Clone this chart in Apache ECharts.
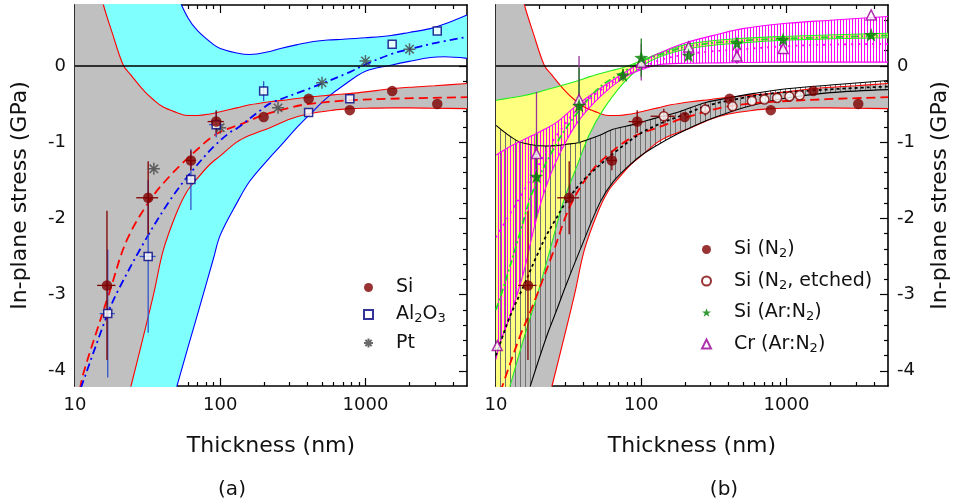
<!DOCTYPE html>
<html><head><meta charset="utf-8">
<script src="https://cdn.jsdelivr.net/npm/echarts@6/dist/echarts.min.js"></script>
<style>html,body{margin:0;padding:0;background:#fff}#c{width:957px;height:504px}</style>
</head><body><div id="c"></div>
<script>
// ---------- ticks ----------
const xMajorTicks = [10, 100, 1000];
const xMinorTicks = [20, 30, 40, 50, 60, 70, 80, 90, 200, 300, 400, 500, 600, 700, 800, 900, 2000, 3000, 4000];
const yMajorTicks = [-4, -3, -2, -1, 0];
const yMinorTicks = [-3.8, -3.6, -3.4, -3.2, -2.8, -2.6, -2.4, -2.2, -1.8, -1.6, -1.4, -1.2, -0.8, -0.6, -0.4, -0.2, 0.2, 0.4, 0.6];

// ---------- panel (a) points ----------
const siX = [16.6, 31.9, 62.8, 93.8, 199, 406, 780, 1527, 3120];
const siY = [-2.88, -1.73, -1.24, -0.73, -0.67, -0.43, -0.58, -0.33, -0.50];
const siYErr = [0.98, 0.48, 0.13, 0.15, 0, 0, 0, 0, 0];
const siXErr = [2.4, 5.5, 5, 12, 0, 0, 0, 0, 0];

const alX = [16.8, 31.9, 62.8, 93.8, 199, 406, 780, 1527, 3120];
const alY = [-3.25, -2.50, -1.49, -0.77, -0.33, -0.61, -0.43, 0.285, 0.46];
const alYErr = [0.84, 1.0, 0.4, 0.17, 0.13, 0, 0, 0, 0];
const alXErr = [2, 4, 6, 10, 0, 0, 0, 0, 0];

const ptX = [34.9, 100, 250, 502, 1000, 2010];
const ptY = [-1.35, -0.81, -0.55, -0.22, 0.065, 0.22];

// Si band (grey, red bounds) - used in both panels
const siBandX  = [10, 12, 14, 15.7, 18, 21.5, 24.3, 30, 35, 40.5, 50, 58.9, 70, 85, 100, 130, 160, 220, 300, 400, 600, 800, 1000, 1500, 2000, 3000, 5000];
const siBandLo = [-7.8, -6.8, -6.1, -5.7, -5.2, -4.6, -4.2, -3.5, -2.97, -2.42, -1.93, -1.65, -1.47, -1.29, -1.18, -1.00, -0.91, -0.81, -0.70, -0.63, -0.58, -0.56, -0.555, -0.55, -0.55, -0.555, -0.56];
const siBandHi = [3.0, 1.9, 1.2, 0.80, 0.44, 0.01, -0.12, -0.33, -0.45, -0.54, -0.61, -0.65, -0.65, -0.63, -0.60, -0.55, -0.51, -0.47, -0.44, -0.41, -0.38, -0.36, -0.34, -0.30, -0.28, -0.26, -0.23];

// Si fit (red dashed), panel a
const siFitX = [10, 10.8, 11.4, 14, 17.4, 22.7, 32.9, 45.2, 65.5, 94.8, 145, 200, 300, 400, 780, 1500, 5000];
const siFitY = [-4.6, -4.25, -4.04, -3.5, -2.95, -2.29, -1.76, -1.44, -1.14, -0.89, -0.75, -0.64, -0.55, -0.50, -0.45, -0.43, -0.41];

// Al2O3 fit (blue dash-dot)
const alFitX = [10, 11.1, 16.8, 20, 30.4, 45.2, 62, 90, 117, 130, 199, 221, 406, 780, 1000, 1527, 2000, 3000, 5000];
const alFitY = [-4.45, -4.2, -3.25, -2.93, -2.29, -1.76, -1.41, -1.06, -0.87, -0.82, -0.55, -0.49, -0.30, -0.08, 0.02, 0.16, 0.22, 0.30, 0.38];

// Al2O3 band (cyan, blue bounds)
const alBandX  = [10, 20, 30, 40, 50, 60, 70, 90, 100, 130, 160, 220, 260, 340, 440, 550, 700, 1000, 1500, 2000, 2800, 3500, 5000];
const alBandLo = [-9.0, -6.9, -5.7, -4.87, -4.22, -3.69, -3.25, -2.52, -2.22, -1.80, -1.51, -1.20, -1.05, -0.80, -0.585, -0.41, -0.26, -0.07, 0.01, 0.06, 0.11, 0.12, 0.10];
const alBandHi = [5.0, 3.2, 2.2, 1.45, 0.95, 0.63, 0.46, 0.28, 0.23, 0.17, 0.15, 0.19, 0.23, 0.28, 0.32, 0.34, 0.35, 0.37, 0.40, 0.44, 0.49, 0.55, 0.67];

// ---------- panel (b) points ----------
const etX = [143, 276, 425, 578, 705, 862, 1047, 1233];
const etY = [-0.66, -0.57, -0.53, -0.46, -0.44, -0.42, -0.40, -0.385];
const etYErr = [0.1, 0.08, 0.06, 0, 0, 0, 0, 0];
const etXErr = [27, 0, 0, 0, 0, 0, 0, 0];

const arX = [19.0, 37.3, 74.9, 100, 212, 456, 948, 3828];
const arY = [-1.45, -0.52, -0.12, 0.11, 0.14, 0.30, 0.35, 0.41];
const arYErr = [0.55, 0.5, 0.08, 0.25, 0, 0, 0, 0];

const crX = [10.2, 19.0, 37.3, 100, 212, 456, 948, 3828];
const crY = [-3.67, -1.15, -0.44, 0.05, 0.25, 0.13, 0.23, 0.67];
const crYErr = [0, 0.81, 0.57, 0.24, 0, 0.1, 0, 0];

// Si (N2) fit, panel b (red dashed)
const siFitBX = [10, 11.2, 14.6, 17, 19, 24.7, 32.2, 44.2, 60.6, 87.8, 134, 200, 400, 1000, 5000];
const siFitBY = [-4.45, -4.17, -3.55, -3.25, -3.02, -2.45, -1.85, -1.41, -1.15, -0.93, -0.80, -0.68, -0.53, -0.46, -0.41];

// combined fit (black dotted) and its band (hatched, black bounds)
const cbFitX = [10, 12.4, 15.4, 19, 22.3, 26, 30.5, 37.8, 44.2, 65, 100, 134, 183, 300, 500, 800, 2300, 5000];
const cbFitY = [-3.80, -3.30, -2.90, -2.50, -2.22, -2.00, -1.78, -1.55, -1.42, -1.14, -0.88, -0.76, -0.66, -0.51, -0.42, -0.36, -0.30, -0.27];
const cbBandX  = [10, 13.9, 17.1, 22.3, 26.1, 30, 37.8, 51.7, 64, 88, 108, 134, 183, 279, 400, 600, 1000, 2000, 5000];
const cbBandLo = [-5.8, -4.8, -4.22, -3.55, -3.21, -2.9, -2.42, -1.80, -1.52, -1.26, -1.13, -1.02, -0.88, -0.72, -0.61, -0.51, -0.42, -0.35, -0.31];
const cbBandHi = [-0.78, -0.98, -1.03, -1.05, -1.045, -1.03, -1.00, -0.91, -0.83, -0.77, -0.72, -0.67, -0.60, -0.48, -0.42, -0.36, -0.30, -0.25, -0.19];

// Si (Ar:N2) fit (green dash-dot) and band (yellow, green bounds)
const grFitX = [10, 11.5, 14.6, 17.9, 26.1, 35.8, 51.7, 74.9, 100, 134, 214, 470, 1040, 5000];
const grFitY = [-3.2, -2.85, -2.2, -1.65, -1.02, -0.63, -0.28, -0.08, 0.06, 0.15, 0.26, 0.33, 0.36, 0.40];
const grBandX  = [10, 12.4, 15.4, 19, 23.5, 29, 35.8, 44.2, 54.5, 75, 100, 134, 214, 470, 1040, 5000];
const grBandLo = [-4.83, -4.22, -3.60, -3.04, -2.42, -1.79, -1.33, -0.89, -0.58, -0.23, -0.01, 0.12, 0.23, 0.30, 0.34, 0.37];
const grBandHi = [-0.45, -0.42, -0.39, -0.35, -0.30, -0.25, -0.20, -0.14, -0.09, -0.02, 0.07, 0.17, 0.29, 0.36, 0.39, 0.43];

// Cr fit (magenta dotted) and band (magenta hatched)
const mgFitX = [10, 12.4, 15.4, 19, 22.3, 26, 35.8, 49, 67, 92, 134, 200, 300, 500, 1000, 2000, 5000];
const mgFitY = [-2.25, -1.95, -1.65, -1.35, -1.12, -0.92, -0.58, -0.36, -0.19, -0.06, 0.075, 0.15, 0.19, 0.22, 0.26, 0.28, 0.29];
const mgBandX  = [10, 10.6, 12.4, 15.4, 17.9, 21.1, 26.1, 35.8, 51.7, 75, 100, 134, 200, 344, 500, 1000, 2000, 5000];
const mgBandLo = [-3.85, -3.65, -3.30, -2.73, -2.20, -1.70, -1.24, -0.76, -0.41, -0.16, -0.05, 0.02, 0.035, 0.04, 0.045, 0.05, 0.05, 0.05];
const mgBandHi = [-1.17, -1.14, -1.06, -0.97, -0.91, -0.84, -0.74, -0.52, -0.30, -0.10, 0.05, 0.17, 0.30, 0.42, 0.49, 0.56, 0.60, 0.65];

// ---------- helpers ----------
const FONT = 'DejaVu Sans';
const TXT = '#111';
function pairs(xs, ys) { return xs.map((x, i) => [x, ys[i]]); }
function hatch(color, step) {
  const c = document.createElement('canvas'); c.width = step; c.height = step;
  const g = c.getContext('2d'); g.fillStyle = color; g.fillRect(0, 0, 1, step);
  return { image: c, repeat: 'repeat' };
}
function lineS(xi, xs, ys, color, width, type) {
  return { type: 'line', xAxisIndex: xi, yAxisIndex: xi, data: pairs(xs, ys), smooth: 0.35, showSymbol: false, silent: true,
    lineStyle: { color: color, width: width, type: type || 'solid' }, clip: true };
}
// band: value dimension is put first in each item so that the stack is applied on y
function band(name, xi, xs, lo, hi, fill, lineColor) {
  return [
    { type: 'line', xAxisIndex: xi, yAxisIndex: xi, stack: name, stackStrategy: 'all', encode: { x: 1, y: 0 },
      data: xs.map((x, i) => [lo[i], x]), smooth: 0.35,
      showSymbol: false, silent: true, lineStyle: { opacity: 0 }, clip: true },
    { type: 'line', xAxisIndex: xi, yAxisIndex: xi, stack: name, stackStrategy: 'all', encode: { x: 1, y: 0 },
      data: xs.map((x, i) => [hi[i] - lo[i], x]),
      smooth: 0.35, showSymbol: false, silent: true, lineStyle: { opacity: 0 }, areaStyle: { color: fill, opacity: 1 }, clip: true },
    lineS(xi, xs, lo, lineColor, 1.1),
    lineS(xi, xs, hi, lineColor, 1.1)
  ];
}
function errS(xi, xs, ys, ye, xe, color) {
  return { type: 'custom', xAxisIndex: xi, yAxisIndex: xi, silent: true, clip: true, z: 4,
    data: xs.map((x, i) => [x, ys[i], ye[i], xe ? xe[i] : 0]),
    encode: { x: 0, y: 1 },
    renderItem: function (params, api) {
      const x = api.value(0), y = api.value(1), e = api.value(2), f = api.value(3);
      const ch = [];
      if (e > 0) {
        const a = api.coord([x, y - e]), b = api.coord([x, y + e]);
        ch.push({ type: 'line', shape: { x1: a[0], y1: a[1], x2: b[0], y2: b[1] }, style: { stroke: color, lineWidth: 1.3 } });
      }
      if (f > 0) {
        const a = api.coord([x - f, y]), b = api.coord([x + f, y]);
        ch.push({ type: 'line', shape: { x1: a[0], y1: a[1], x2: b[0], y2: b[1] }, style: { stroke: color, lineWidth: 1.3 } });
      }
      return { type: 'group', children: ch };
    } };
}
function scat(xi, name, xs, ys, symbol, size, style) {
  return { type: 'scatter', name: name, xAxisIndex: xi, yAxisIndex: xi, data: pairs(xs, ys), symbol: symbol, symbolSize: size,
    itemStyle: style, silent: true, z: 5 };
}
function zeroLine(xi) {
  return { type: 'line', xAxisIndex: xi, yAxisIndex: xi, data: [[10, 0], [5000, 0]], showSymbol: false, silent: true,
    lineStyle: { color: '#000', width: 1.6 } };
}
const tickStyle = { color: '#000', width: 1.2 };
const axLine = { show: true, onZero: false, lineStyle: { color: '#000', width: 1.6 } };
function xAxes(gi) {
  const c = { type: 'log', logBase: 10, min: 10, max: 5000, gridIndex: gi, splitLine: { show: false } };
  return [
    Object.assign({}, c, { position: 'bottom', name: 'Thickness (nm)', nameLocation: 'middle', nameGap: 49,
      nameTextStyle: { fontFamily: FONT, fontSize: 22, color: TXT }, axisLine: axLine,
      axisTick: { show: true, inside: true, length: 8, customValues: xMajorTicks, lineStyle: tickStyle },
      axisLabel: { show: true, customValues: xMajorTicks, formatter: v => String(v), margin: 10, fontFamily: FONT, fontSize: 18, color: TXT } }),
    Object.assign({}, c, { position: 'bottom', axisLine: { show: false, onZero: false },
      axisTick: { show: true, inside: true, length: 4, customValues: xMinorTicks, lineStyle: tickStyle }, axisLabel: { show: false } }),
    Object.assign({}, c, { position: 'top', axisLine: axLine,
      axisTick: { show: true, inside: true, length: 8, customValues: xMajorTicks, lineStyle: tickStyle }, axisLabel: { show: false } }),
    Object.assign({}, c, { position: 'top', axisLine: { show: false, onZero: false },
      axisTick: { show: true, inside: true, length: 4, customValues: xMinorTicks, lineStyle: tickStyle }, axisLabel: { show: false } })
  ];
}
function yAxes(gi, labelSide) {
  const c = { type: 'value', min: -4.2, max: 0.8, gridIndex: gi, splitLine: { show: false } };
  const other = labelSide === 'left' ? 'right' : 'left';
  return [
    Object.assign({}, c, { position: labelSide, name: 'In-plane stress (GPa)', nameLocation: 'middle', nameRotate: 90,
      nameGap: labelSide === 'left' ? 44 : 41, nameTextStyle: { fontFamily: FONT, fontSize: 22, color: TXT }, axisLine: axLine,
      axisTick: { show: true, inside: true, length: 8, customValues: yMajorTicks, lineStyle: tickStyle },
      axisLabel: { show: true, customValues: yMajorTicks, formatter: v => String(v), margin: 9, fontFamily: FONT, fontSize: 18, color: TXT } }),
    Object.assign({}, c, { position: labelSide, axisLine: { show: false, onZero: false },
      axisTick: { show: true, inside: true, length: 4, customValues: yMinorTicks, lineStyle: tickStyle }, axisLabel: { show: false } }),
    Object.assign({}, c, { position: other, axisLine: axLine,
      axisTick: { show: true, inside: true, length: 8, customValues: yMajorTicks, lineStyle: tickStyle }, axisLabel: { show: false } }),
    Object.assign({}, c, { position: other, axisLine: { show: false, onZero: false },
      axisTick: { show: true, inside: true, length: 4, customValues: yMinorTicks, lineStyle: tickStyle }, axisLabel: { show: false } })
  ];
}

const asterisk = 'path://M0,-10L0,10M-10,0L10,0M-7,-7L7,7M-7,7L7,-7';
const star = 'path://M0,-10L2.35,-3.24L9.51,-3.09L3.8,1.24L5.88,8.09L0,4L-5.88,8.09L-3.8,1.24L-9.51,-3.09L-2.35,-3.24Z';
const DARKRED = '#800000';

const A = 0, B = 4;  // axis index of panel a / b
const series = [].concat(
  // ----- panel a -----
  band('alB', A, alBandX, alBandLo, alBandHi, '#80ffff', '#0000ff'),
  band('siA', A, siBandX, siBandLo, siBandHi, '#c0c0c0', '#ff0000'),
  [lineS(A, siFitX, siFitY, '#ff0000', 1.8, [9, 5]),
   lineS(A, alFitX, alFitY, '#0000ff', 1.8, [8, 4, 2, 4]),
   zeroLine(A),
   errS(A, alX, alY, alYErr, alXErr, '#3355cc'),
   errS(A, siX, siY, siYErr, siXErr, DARKRED),
   scat(A, 'Pt', ptX, ptY, asterisk, 12, { color: 'rgba(0,0,0,0)', borderColor: '#444', borderWidth: 1.5 }),
   scat(A, 'Al2O3', alX, alY, 'rect', 8, { color: '#fff', borderColor: '#000080', borderWidth: 1.5 }),
   scat(A, 'Si', siX, siY, 'circle', 10.5, { color: DARKRED })],
  // ----- panel b -----
  band('siB', B, siBandX, siBandLo, siBandHi, '#c0c0c0', '#ff0000'),
  band('grB', B, grBandX, grBandLo, grBandHi, '#ffff80', '#22ee22'),
  band('cbB', B, cbBandX, cbBandLo, cbBandHi, hatch('#707070', 5), '#000000'),
  band('mgB', B, mgBandX, mgBandLo, mgBandHi, hatch('#ff00ff', 3), '#ff00ff'),
  [lineS(B, siFitBX, siFitBY, '#ff0000', 1.8, [9, 5]),
   lineS(B, cbFitX, cbFitY, '#000000', 1.8, [3, 3]),
   lineS(B, grFitX, grFitY, '#22dd22', 1.8, [7, 3, 2, 3]),
   lineS(B, mgFitX, mgFitY, '#ff00ff', 1.8, [2, 5]),
   zeroLine(B),
   errS(B, siX, siY, siYErr, siXErr, DARKRED),
   errS(B, etX, etY, etYErr, etXErr, DARKRED),
   errS(B, crX, crY, crYErr, null, '#993399'),
   errS(B, arX, arY, arYErr, null, '#208020'),
   scat(B, 'Si (N2)', siX, siY, 'circle', 10.5, { color: DARKRED }),
   scat(B, 'Si (N2, etched)', etX, etY, 'circle', 9, { color: '#fff', borderColor: DARKRED, borderWidth: 1.5 }),
   scat(B, 'Cr (Ar:N2)', crX, crY, 'triangle', 10, { color: '#fff', borderColor: '#990099', borderWidth: 1.5 }),
   scat(B, 'Si (Ar:N2)', arX, arY, star, 14, { color: '#008000' })]
);

const richSub = { s: { fontFamily: FONT, fontSize: 13, color: TXT, padding: [9, 0, 0, 0] } };
function legendFmt(name) {
  const m = { 'Al2O3': 'Al{s|2}O{s|3}', 'Si (N2)': 'Si (N{s|2})', 'Si (N2, etched)': 'Si (N{s|2}, etched)',
    'Si (Ar:N2)': 'Si (Ar:N{s|2})', 'Cr (Ar:N2)': 'Cr (Ar:N{s|2})' };
  return m[name] || name;
}
const legendText = { fontFamily: FONT, fontSize: 19, color: TXT, rich: richSub, padding: [0, 0, 0, 18] };

const option = {
  animation: false,
  backgroundColor: '#fff',
  grid: [
    { left: 75, top: 5, width: 392, height: 381, outerBoundsMode: 'none' },
    { left: 496, top: 5, width: 392, height: 381, outerBoundsMode: 'none' }
  ],
  xAxis: xAxes(0).concat(xAxes(1)),
  yAxis: yAxes(0, 'left').concat(yAxes(1, 'right')),
  legend: [
    { data: ['Si', 'Al2O3', 'Pt'], orient: 'vertical', left: 358, top: 273, itemWidth: 9, itemHeight: 9, itemGap: 8,
      selectedMode: false, formatter: legendFmt, textStyle: legendText },
    { data: ['Si (N2)', 'Si (N2, etched)', 'Si (Ar:N2)', 'Cr (Ar:N2)'], orient: 'vertical', left: 696, top: 235,
      itemWidth: 9, itemHeight: 9, itemGap: 11, selectedMode: false, formatter: legendFmt, textStyle: legendText }
  ],
  graphic: [
    { type: 'text', x: 232, y: 490, style: { text: '(a)', font: '20px "DejaVu Sans"', fill: TXT, align: 'center', verticalAlign: 'middle' } },
    { type: 'text', x: 724, y: 490, style: { text: '(b)', font: '20px "DejaVu Sans"', fill: TXT, align: 'center', verticalAlign: 'middle' } }
  ],
  series: series
};
const chart = echarts.init(document.getElementById('c'));
chart.setOption(option);
</script>
</body></html>
